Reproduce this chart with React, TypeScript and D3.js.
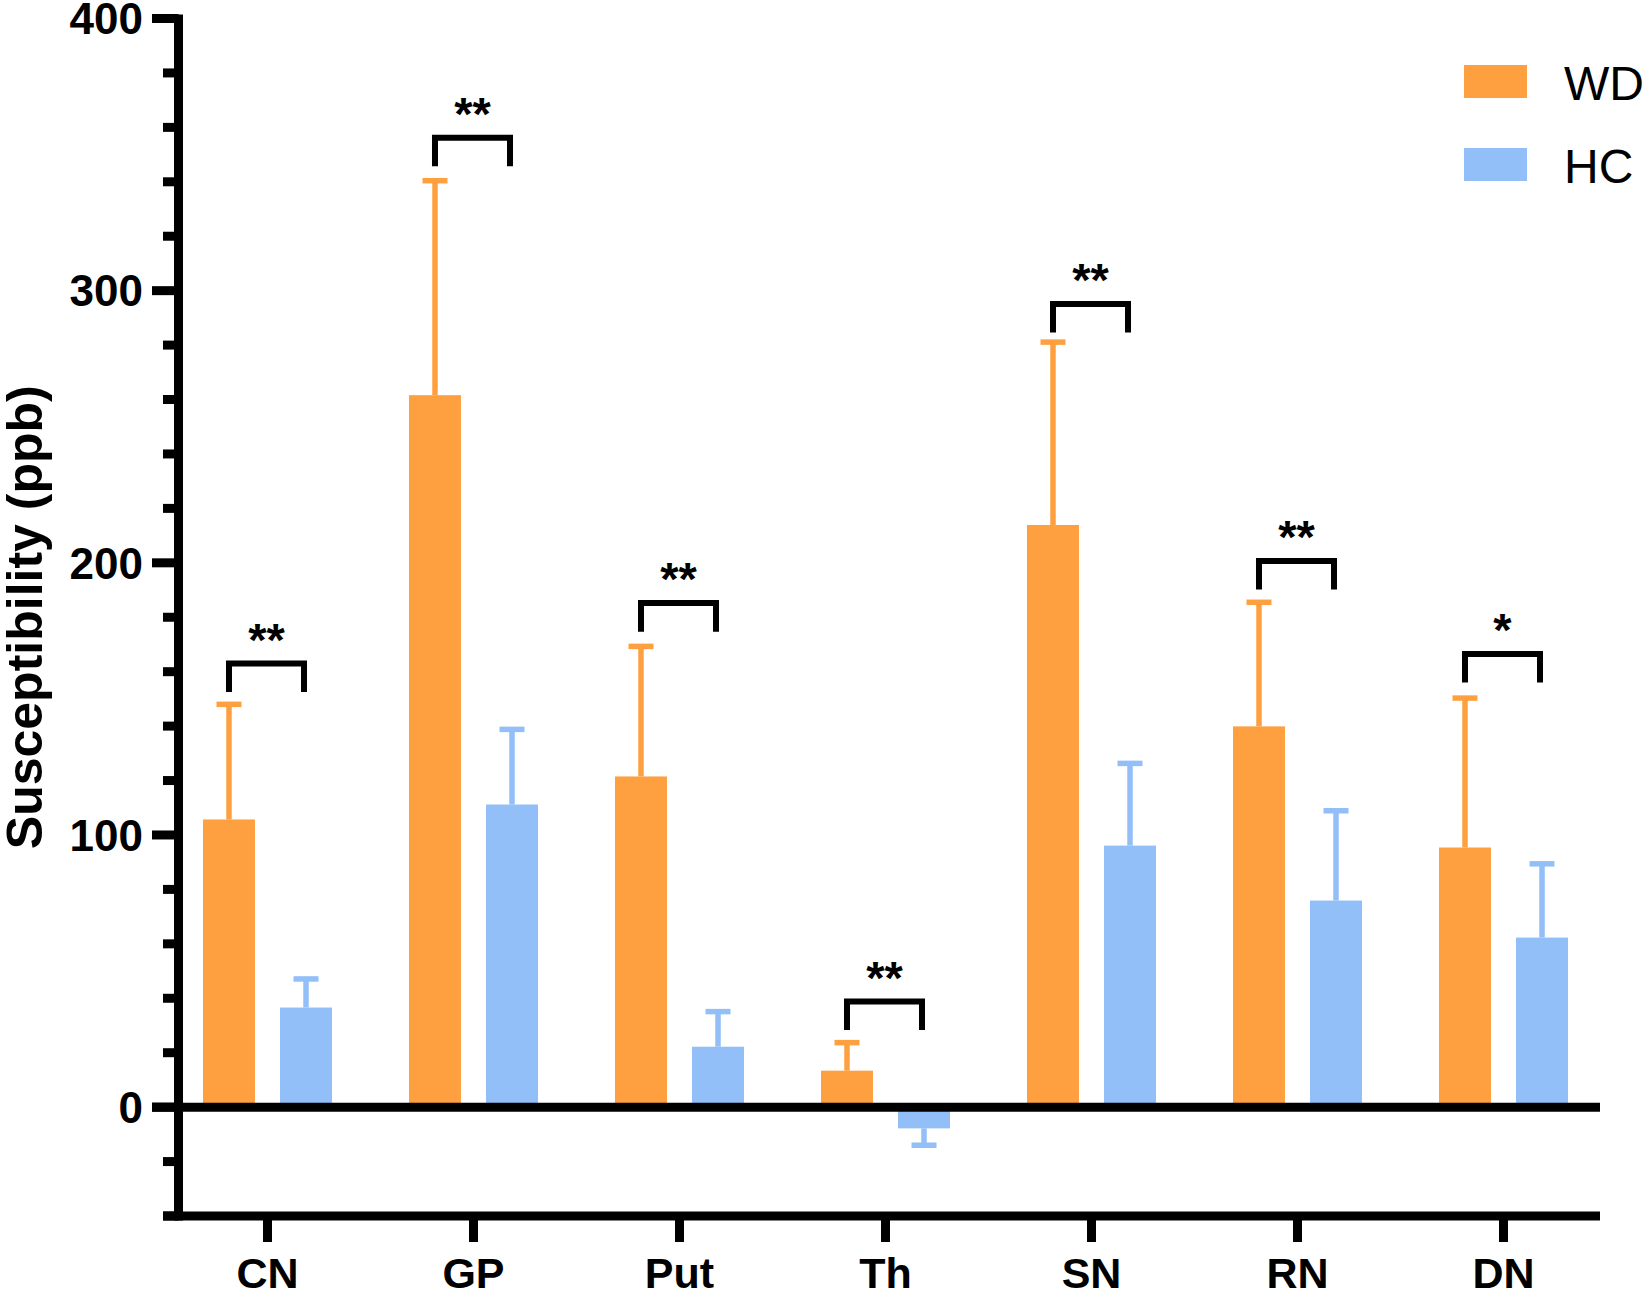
import { useEffect } from 'react';
import * as d3 from 'd3';

const categories = ['CN', 'GP', 'Put', 'Th', 'SN', 'RN', 'DN'];
const groups = ['WD', 'HC'];
const wdMean = [105.7, 261.6, 121.5, 13.4, 213.9, 139.9, 95.4];
const wdSd = [42.3, 78.8, 47.8, 10.3, 67.2, 45.6, 54.9];
const hcMean = [36.6, 111.2, 22.2, -7.8, 96.1, 75.9, 62.3];
const hcSd = [10.5, 27.6, 12.9, 6.2, 30.2, 33.0, 27.1];
const bracketLevel = [163, 356.2, 185.2, 38.8, 295.1, 200.7, 166.5];
const bracketLabel = ['**', '**', '**', '**', '**', '**', '*'];
const yTicksMajor = [0, 100, 200, 300, 400];

const colors: Record<string, string> = { WD: '#FFA040', HC: '#92BFF8' };
const font = '"Liberation Sans", Arial, Helvetica, sans-serif';

const W = 1646;
const H = 1293;
const axisX = 178.5;
const axisRight = 1600;

export default function App() {
  useEffect(() => {
    document.body.style.margin = '0';
  }, []);

  const y = d3.scaleLinear().domain([-40, 400]).range([1216, 18.5]);
  const x = d3.scaleBand<string>().domain(categories).range([164.5, 1606.5]).padding(0);
  const xSub = d3.scaleBand<string>().domain(groups).range([-64.5, 64.5]).paddingInner(0.325);
  const bw = xSub.bandwidth();
  const center = (c: string) => (x(c) as number) + x.bandwidth() / 2;
  const minorTicks = d3.range(-40, 401, 20);

  const bars = categories.flatMap((c, i) => [
    { c, g: 'WD', mean: wdMean[i], sd: wdSd[i] },
    { c, g: 'HC', mean: hcMean[i], sd: hcSd[i] },
  ]);

  const legLen = 10.5;

  return (
    <svg width={W} height={H} style={{ display: 'block', background: '#fff' }} fontFamily={font}>
      {/* bars with upper error bars */}
      {bars.map((b) => {
        const cx = center(b.c) + (xSub(b.g) as number) + bw / 2;
        const top = Math.min(y(b.mean), y(0));
        const h = Math.abs(y(b.mean) - y(0));
        const end = b.mean >= 0 ? b.mean + b.sd : b.mean - b.sd;
        return (
          <g key={b.c + b.g}>
            <rect x={cx - bw / 2} y={top} width={bw} height={h} fill={colors[b.g]} />
            <line x1={cx} x2={cx} y1={y(b.mean)} y2={y(end)} stroke={colors[b.g]} strokeWidth={5.5} />
            <line x1={cx - 12.5} x2={cx + 12.5} y1={y(end)} y2={y(end)} stroke={colors[b.g]} strokeWidth={5.5} />
          </g>
        );
      })}

      {/* zero line */}
      <line x1={152} x2={axisRight} y1={y(0)} y2={y(0)} stroke="#000" strokeWidth={9} />

      {/* y axis */}
      <line x1={axisX} x2={axisX} y1={y(400) - 4} y2={y(-40) + 4.5} stroke="#000" strokeWidth={9} />
      {minorTicks.map((t) => (
        <line
          key={t}
          x1={yTicksMajor.includes(t) ? 152 : 163}
          x2={axisX}
          y1={y(t)}
          y2={y(t)}
          stroke="#000"
          strokeWidth={9}
        />
      ))}
      {yTicksMajor.map((t) => (
        <text
          key={t}
          x={143}
          y={y(t)}
          dy="0.36em"
          textAnchor="end"
          fontSize={44}
          fontWeight="bold"
        >
          {t}
        </text>
      ))}

      {/* x axis */}
      <line x1={163} x2={axisRight} y1={y(-40)} y2={y(-40)} stroke="#000" strokeWidth={9} />
      {categories.map((c) => (
        <g key={c}>
          <line x1={center(c)} x2={center(c)} y1={y(-40)} y2={y(-40) + 26} stroke="#000" strokeWidth={9} />
          <text x={center(c)} y={1288} textAnchor="middle" fontSize={43} fontWeight="bold">
            {c}
          </text>
        </g>
      ))}

      {/* y axis title */}
      <text
        transform={`translate(42, ${y(180)}) rotate(-90)`}
        textAnchor="middle"
        fontSize={50}
        fontWeight="bold"
      >
        Susceptibility (ppb)
      </text>

      {/* significance brackets */}
      {categories.map((c, i) => {
        const x1 = center(c) + (xSub('WD') as number) + bw / 2;
        const x2 = center(c) + (xSub('HC') as number) + bw / 2 - 2;
        const top = y(bracketLevel[i]);
        const bottom = y(bracketLevel[i] - legLen);
        return (
          <g key={c}>
            <path
              d={`M${x1},${bottom}V${top}H${x2}V${bottom}`}
              fill="none"
              stroke="#000"
              strokeWidth={6}
            />
            <text
              x={(x1 + x2) / 2}
              y={top - 8}
              textAnchor="middle"
              fontSize={47}
              fontWeight="bold"
            >
              {bracketLabel[i]}
            </text>
          </g>
        );
      })}

      {/* legend */}
      {groups.map((g, i) => (
        <g key={g} transform={`translate(1464, ${65 + i * 83})`}>
          <rect x={0} y={0} width={63} height={33} fill={colors[g]} />
          <text x={100} y={35} fontSize={48}>
            {g}
          </text>
        </g>
      ))}
    </svg>
  );
}
